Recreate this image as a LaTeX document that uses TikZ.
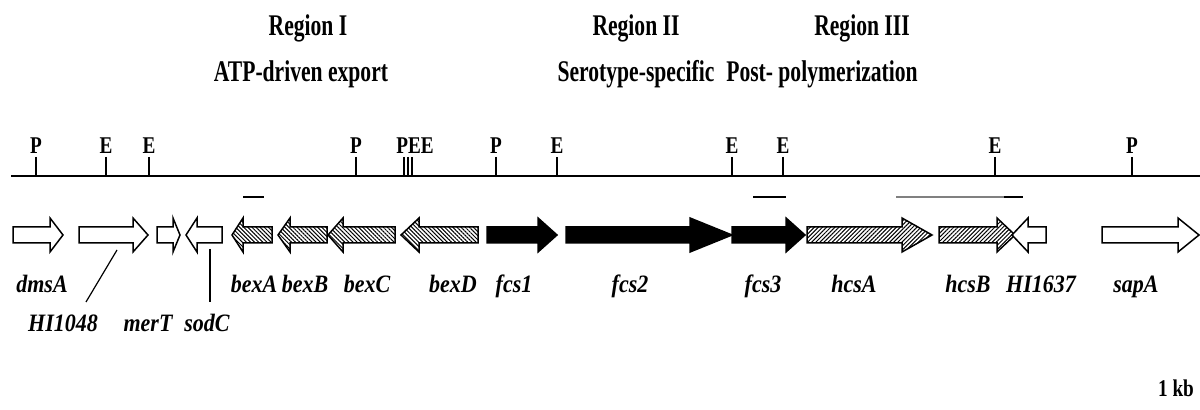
\documentclass[tikz,border=0pt]{standalone}
\usepackage{fontspec}
\setmainfont{Liberation Serif}
\newfontfamily\condfont[FakeStretch=0.72]{Liberation Serif}
\newfontfamily\sitefont[FakeStretch=0.8]{Liberation Serif}
\newfontfamily\genefont[FakeStretch=0.88]{Liberation Serif}
\usetikzlibrary{patterns.meta}

% one gene arrow: tail x, head-base x, tip x (works for both directions)
\newcommand\genearrow[4][]{%
  \draw[#1] (#2,227) -- (#3,227) -- (#3,218) -- (#4,235) -- (#3,252)
            -- (#3,243) -- (#2,243) -- cycle;}

\begin{document}
\begin{tikzpicture}[x=0.5pt,y=-0.5pt,
  title/.style={font=\condfont\fontsize{15}{17}\selectfont\bfseries,anchor=base,inner sep=0pt},
  site/.style={font=\sitefont\fontsize{12}{14}\selectfont\bfseries,anchor=base,inner sep=0pt},
  genelbl/.style={font=\genefont\fontsize{12.5}{14}\selectfont\bfseries\itshape,anchor=base,inner sep=0pt},
  cut/.style={line width=0.8pt},
  opengene/.style={draw=black,line width=0.75pt,fill=white},
  solidgene/.style={draw=black,line width=0.75pt,fill=black},
  bexgene/.style={draw=black,line width=0.75pt,preaction={fill=white},
    pattern={Lines[angle=-45,distance=1.45pt,line width=0.5pt]}},
  hcsgene/.style={draw=black,line width=0.75pt,preaction={fill=white},
    pattern={Lines[angle=45,distance=1.45pt,line width=0.5pt]}},
  probe/.style={line width=1.2pt},
  pointer/.style={line width=0.6pt}]
\useasboundingbox (0,0) rectangle (1200,410);

% region headings
\node[title] (r1)  at (308,36) {Region I};
\node[title] (r1b) at (301,82) {ATP-driven export};
\node[title] (r2)  at (636,36) {Region II};
\node[title] (r2b) at (636,82) {Serotype-specific};
\node[title] (r3)  at (862,36) {Region III};
\node[title] (r3b) at (822,82) {Post- polymerization};

% restriction map
\coordinate (mapL) at (11,176);
\coordinate (mapR) at (1200,176);
\draw[line width=1pt] (mapL) -- (mapR);
\foreach \x in {36,106,149,356,404,408,412,496,557,732,783,995,1132}
  \draw[cut] (\x,157) -- (\x,176);
\node[site] (s1)  at (36,154)   {P};
\node[site] (s2)  at (106,154)  {E};
\node[site] (s3)  at (149,154)  {E};
\node[site] (s4)  at (356,154)  {P};
\node[site] (s5)  at (415,154)  {PEE};
\node[site] (s6)  at (496,154)  {P};
\node[site] (s7)  at (557,154)  {E};
\node[site] (s8)  at (732,154)  {E};
\node[site] (s9)  at (783,154)  {E};
\node[site] (s10) at (995,154)  {E};
\node[site] (s11) at (1132,154) {P};

% probe fragments
\draw[probe] (243,197) -- (264,197);
\draw[probe] (753,197) -- (786,197);
\draw[line width=1pt,gray] (896,197) -- (1004,197);
\draw[probe] (1004,197) -- (1023,197);

% open reading frames
\genearrow[opengene]{13}{50}{63}
\genearrow[opengene]{79}{133}{148}
\genearrow[opengene]{157}{173}{180}
\genearrow[opengene]{222}{197}{186}
\genearrow[bexgene]{272}{243}{232}
\genearrow[bexgene]{327}{290}{278}
\genearrow[bexgene]{395}{343}{328}
\genearrow[bexgene]{478}{419}{401}
\genearrow[solidgene]{487}{538}{557}
\genearrow[solidgene]{566}{690}{732}
\genearrow[solidgene]{732}{786}{805}
\genearrow[hcsgene]{807}{902}{932}
\genearrow[hcsgene]{939}{997}{1015}
\genearrow[opengene]{1046}{1028}{1012}
\genearrow[opengene]{1102}{1178}{1199}

% gene names
\node[genelbl] (dmsA)   at (42,293)   {dmsA};
\node[genelbl] (HI1048) at (63,332)   {HI1048};
\node[genelbl] (merT)   at (148,332)  {merT};
\node[genelbl] (sodC)   at (207,332)  {sodC};
\node[genelbl] (bexA)   at (254,293)  {bexA};
\node[genelbl] (bexB)   at (305,293)  {bexB};
\node[genelbl] (bexC)   at (367,293)  {bexC};
\node[genelbl] (bexD)   at (453,293)  {bexD};
\node[genelbl] (fcs1)   at (514,293)  {fcs1};
\node[genelbl] (fcs2)   at (630,293)  {fcs2};
\node[genelbl] (fcs3)   at (763,293)  {fcs3};
\node[genelbl] (hcsA)   at (854,293)  {hcsA};
\node[genelbl] (hcsB)   at (968,293)  {hcsB};
\node[genelbl] (HI1637) at (1041,293) {HI1637};
\node[genelbl] (sapA)   at (1136,293) {sapA};

% leader lines to the small genes
\coordinate (hiA) at (117,250);
\coordinate (hiB) at (86,302);
\coordinate (soA) at (210,249);
\coordinate (soB) at (210,302);
\draw[pointer] (hiA) -- (hiB);
\draw[pointer] (soA) -- (soB);

% scale
\node[site] (kb) at (1176,397) {1 kb};
\end{tikzpicture}
\end{document}
